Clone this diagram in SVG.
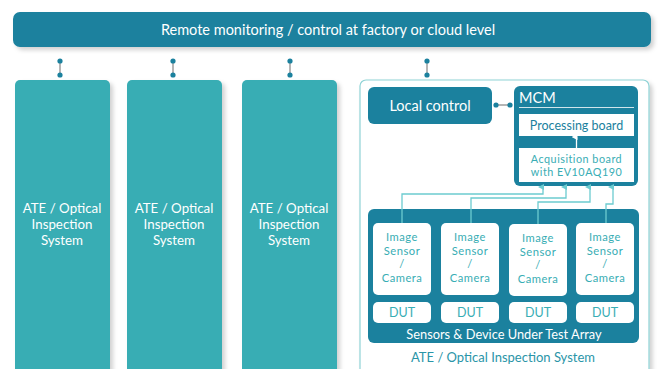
<svg xmlns="http://www.w3.org/2000/svg" width="658" height="369" viewBox="0 0 658 369">
<defs>
<filter id="sh" x="-10%" y="-10%" width="130%" height="130%"><feDropShadow dx="3" dy="3" stdDeviation="2" flood-color="#000" flood-opacity="0.18"/></filter>
<marker id="ah" viewBox="0 0 6 6" refX="3" refY="5" markerWidth="6" markerHeight="6" markerUnits="userSpaceOnUse" orient="auto-start-reverse"><path d="M0,6 L3,0 L6,6 Z" fill="#6ccbd0"/></marker>
<marker id="ahw" viewBox="0 0 6 6" refX="3" refY="5" markerWidth="6" markerHeight="6" markerUnits="userSpaceOnUse" orient="auto-start-reverse"><path d="M0,6 L3,0 L6,6 Z" fill="#ffffff"/></marker>
</defs>
<style>
text,tspan{font-family:Lato,"Open Sans","Liberation Sans",sans-serif;text-anchor:middle;dominant-baseline:central}
.dark{fill:#1b819e}
.col{fill:#38adb4}
.w{fill:#ffffff}
.tw{fill:#ffffff;font-size:13.3px}
.tt{fill:#38adb4;font-size:12px}
.cm{fill:#38adb4;font-size:11.2px;letter-spacing:0.5px}
.dot{fill:#1b819e}
.gl{stroke:#b5b5b5;stroke-width:2}
.ln{stroke:#6ccbd0;stroke-width:1.3;fill:none}
</style>
<g id="top"><rect x="13" y="12" width="638" height="35" rx="7" class="dark" filter="url(#sh)"/><text x="328" y="29.5" class="tw" style="font-size:14.5px">Remote monitoring / control at factory or cloud level</text></g>
<g id="ate1"><rect x="15" y="80" width="95" height="300" rx="5" class="col" filter="url(#sh)"/><text class="tw"><tspan x="62" y="208">ATE / Optical</tspan><tspan x="62" y="224">Inspection</tspan><tspan x="62" y="240">System</tspan></text></g>
<g id="ate2"><rect x="127" y="80" width="95" height="300" rx="5" class="col" filter="url(#sh)"/><text class="tw"><tspan x="174" y="208">ATE / Optical</tspan><tspan x="174" y="224">Inspection</tspan><tspan x="174" y="240">System</tspan></text></g>
<g id="ate3"><rect x="242" y="80" width="95" height="300" rx="5" class="col" filter="url(#sh)"/><text class="tw"><tspan x="289" y="208">ATE / Optical</tspan><tspan x="289" y="224">Inspection</tspan><tspan x="289" y="240">System</tspan></text></g>
<g id="ate4"><rect x="360" y="80" width="289" height="300" rx="6" fill="#ffffff" stroke="#8fd3d6" stroke-width="1.2" filter="url(#sh)"/><text x="503" y="357" class="tt" style="font-size:13px;fill:#2a95a8">ATE / Optical Inspection System</text></g>
<g id="local"><rect x="368" y="87" width="124" height="37" rx="6" class="dark"/><text x="430" y="105" class="tw" style="font-size:14.5px">Local control</text></g>
<g id="mcm"><rect x="514" y="86" width="124" height="100" rx="6" class="dark"/><text x="519" y="97" class="tw" style="text-anchor:start;font-size:14.5px">MCM</text><line x1="519" y1="107.5" x2="634" y2="107.5" stroke="#ffffff" stroke-width="0.8"/></g>
<g id="proc"><rect x="519" y="114" width="115" height="22" class="w"/><text x="576.5" y="125.5" class="tt" style="fill:#1b819e;font-size:12.5px">Processing board</text></g>
<g id="acq"><rect x="519" y="148" width="115" height="34" class="w"/><text class="tt" style="font-size:10.8px;letter-spacing:0.5px"><tspan x="576.5" y="158">Acquisition board</tspan><tspan x="576.5" y="171">with EV10AQ190</tspan></text></g>
<g id="array"><rect x="368" y="209" width="271" height="134" rx="6" class="dark"/><text x="504" y="334" class="tw" style="font-size:12.8px">Sensors &amp; Device Under Test Array</text></g>
<g id="cam1"><rect x="373" y="223" width="58" height="72" rx="5" class="w"/><text class="cm"><tspan x="402" y="236">Image</tspan><tspan x="402" y="249.5">Sensor</tspan><tspan x="402" y="263">/</tspan><tspan x="402" y="276.5">Camera</tspan></text></g>
<g id="cam2"><rect x="441" y="223" width="58" height="72" rx="5" class="w"/><text class="cm"><tspan x="470" y="236">Image</tspan><tspan x="470" y="249.5">Sensor</tspan><tspan x="470" y="263">/</tspan><tspan x="470" y="276.5">Camera</tspan></text></g>
<g id="cam3"><rect x="509" y="224" width="58" height="72" rx="5" class="w"/><text class="cm"><tspan x="538" y="237">Image</tspan><tspan x="538" y="250.5">Sensor</tspan><tspan x="538" y="264">/</tspan><tspan x="538" y="277.5">Camera</tspan></text></g>
<g id="cam4"><rect x="576" y="223" width="58" height="72" rx="5" class="w"/><text class="cm"><tspan x="605" y="236">Image</tspan><tspan x="605" y="249.5">Sensor</tspan><tspan x="605" y="263">/</tspan><tspan x="605" y="276.5">Camera</tspan></text></g>
<g id="dut1"><rect x="373" y="302" width="58" height="21" rx="5" class="w"/><text x="402" y="312.5" class="tt" style="font-size:12.5px">DUT</text></g>
<g id="dut2"><rect x="441" y="302" width="58" height="21" rx="5" class="w"/><text x="470" y="312.5" class="tt" style="font-size:12.5px">DUT</text></g>
<g id="dut3"><rect x="509" y="302" width="58" height="21" rx="5" class="w"/><text x="538" y="312.5" class="tt" style="font-size:12.5px">DUT</text></g>
<g id="dut4"><rect x="576" y="302" width="58" height="21" rx="5" class="w"/><text x="605" y="312.5" class="tt" style="font-size:12.5px">DUT</text></g>
<g id="connectors">
<line x1="60" y1="61" x2="60" y2="75" class="gl"/><circle cx="60" cy="61" r="2.6" class="dot"/><circle cx="60" cy="75" r="2.6" class="dot"/>
<line x1="173" y1="61" x2="173" y2="75" class="gl"/><circle cx="173" cy="61" r="2.6" class="dot"/><circle cx="173" cy="75" r="2.6" class="dot"/>
<line x1="290" y1="61" x2="290" y2="75" class="gl"/><circle cx="290" cy="61" r="2.6" class="dot"/><circle cx="290" cy="75" r="2.6" class="dot"/>
<line x1="427" y1="61" x2="427" y2="75" class="gl"/><circle cx="427" cy="61" r="2.6" class="dot"/><circle cx="427" cy="75" r="2.6" class="dot"/>
<line x1="496" y1="105" x2="510" y2="105" class="gl"/><circle cx="496" cy="105" r="2.6" class="dot"/><circle cx="510" cy="105" r="2.6" class="dot"/>
<line x1="576.5" y1="148" x2="576.5" y2="137" stroke="#ffffff" stroke-width="1.3" marker-end="url(#ahw)"/>
<path d="M402,223 V194 H543 V187" class="ln" marker-end="url(#ah)"/>
<path d="M471,223 V198 H566 V187" class="ln" marker-end="url(#ah)"/>
<path d="M538,224 V202 H590 V187" class="ln" marker-end="url(#ah)"/>
<path d="M606,223 V204 H613 V187" class="ln" marker-end="url(#ah)"/>
</g>
</svg>
